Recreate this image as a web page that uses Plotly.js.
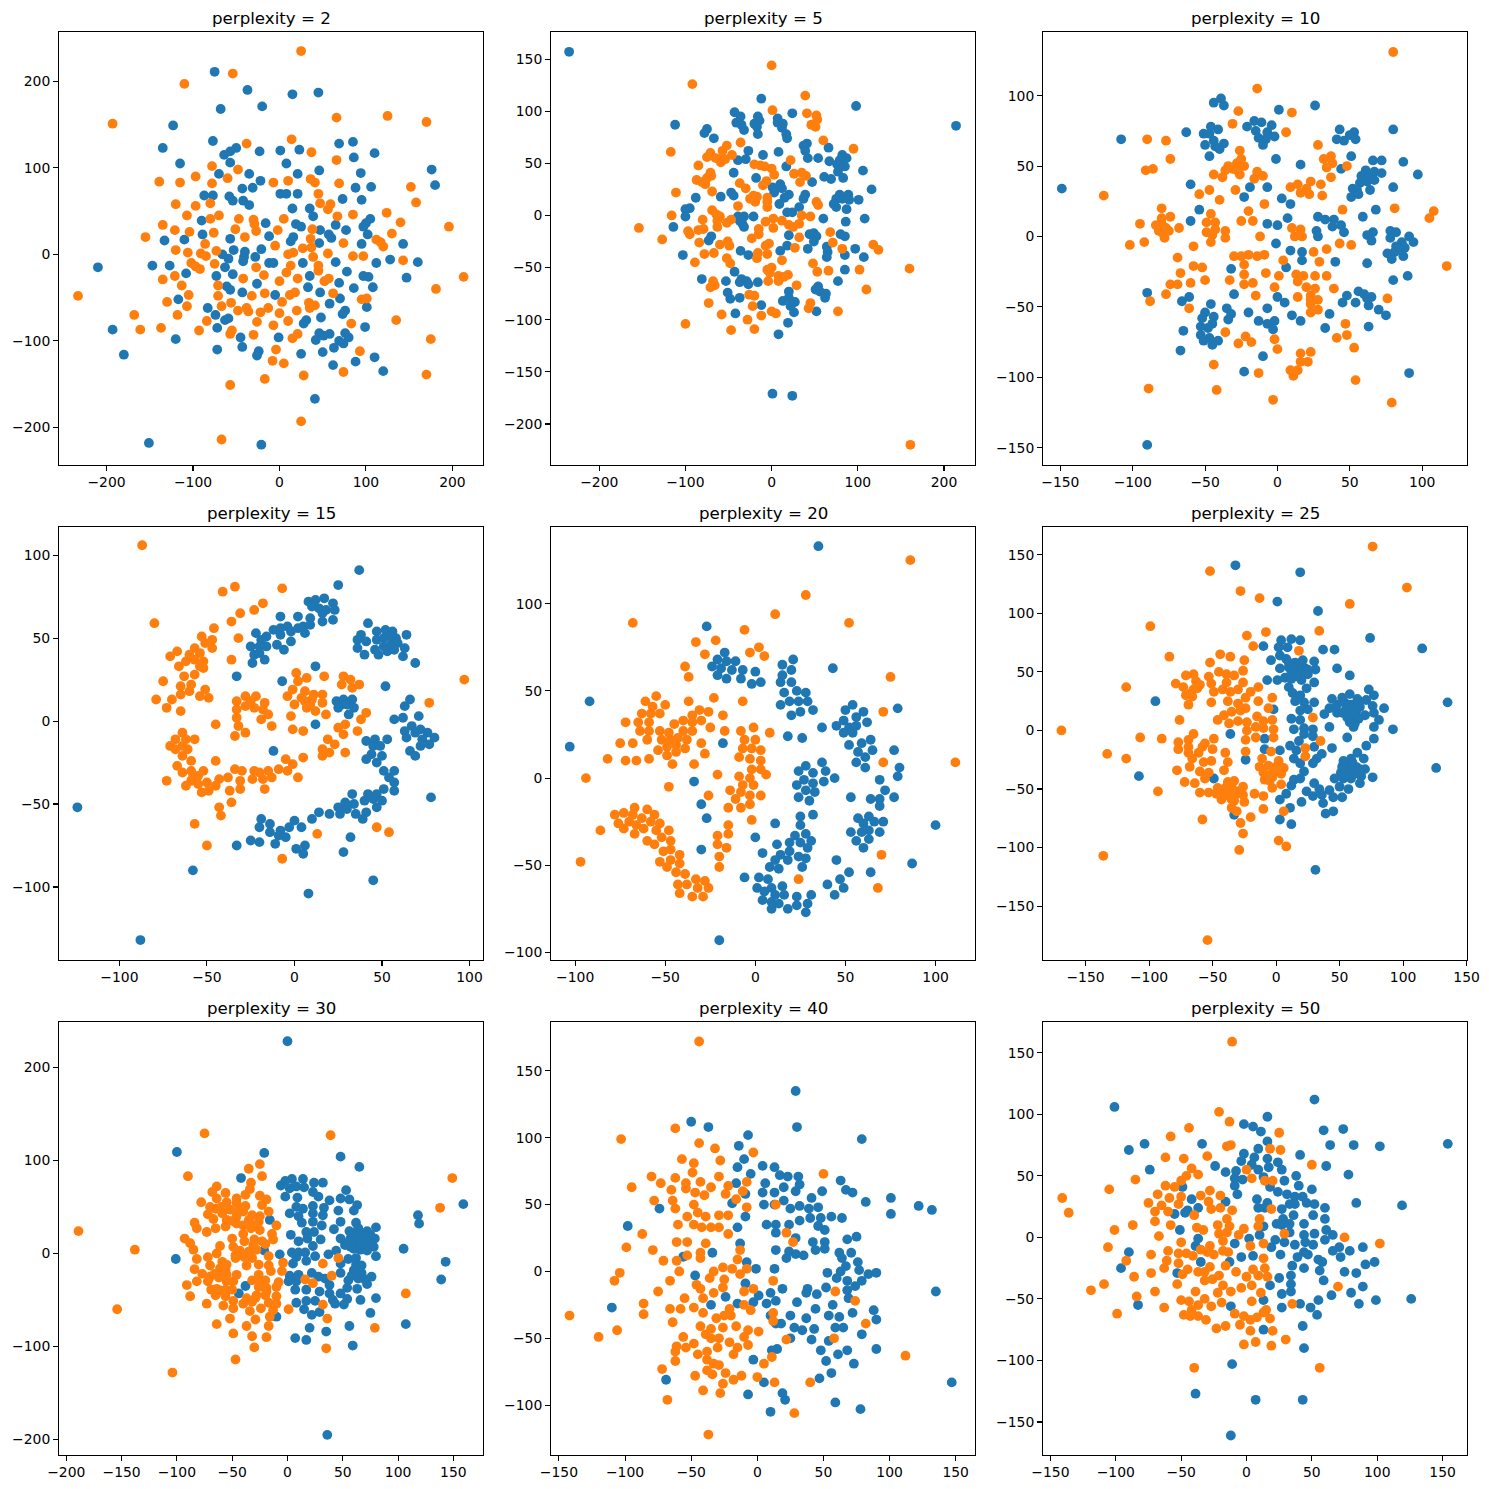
<!DOCTYPE html>
<html><head><meta charset="utf-8">
<script src="https://cdn.plot.ly/plotly-3.0.1.min.js"></script>
<style>html,body{margin:0;padding:0;background:#fff}</style></head>
<body><div id="chart" style="width:1489px;height:1489px"></div>
<script>
const perplexities=[2,5,10,15,20,25,30,40,50];
const blue1=[[-75,211],[-37,190],[15,185],[45,187],[-68,168],[-20,171],[-123,149],[-135,123],[-77,131],[-115,105],[-64,115],[-57,119],[-50,123],[-57,106],[-23,119],[1,120],[23,121],[8,105],[69,128],[85,130],[110,117],[86,112],[46,97],[94,94],[21,93],[-70,93],[-35,93],[-22,85],[176,98],[180,80],[106,78],[88,77],[95,63],[73,64],[-43,76],[-31,77],[-87,68],[-77,68],[-58,67],[-54,62],[-42,62],[-35,57],[1,70],[8,70],[21,70],[15,53],[35,53],[39,44],[-90,39],[-16,36],[19,35],[25,32],[47,28],[65,34],[77,28],[105,41],[100,36],[97,32],[102,23],[-89,23],[-133,16],[-110,17],[-57,18],[-12,21],[16,20],[13,15],[57,23],[60,19],[46,13],[95,12],[143,12],[-21,6],[-53,5],[-40,3],[-41,-3],[-42,-8],[-66,0],[-59,-5],[-28,-3],[-12,-10],[-7,-10],[-63,-15],[27,-10],[65,-9],[112,-10],[128,-6],[160,-9],[-210,-15],[-147,-13],[-127,-13],[-108,-22],[-73,-25],[-54,-23],[35,-25],[78,-20],[97,-25],[103,-26],[147,-27],[-26,-34],[-61,-37],[-57,-41],[-43,-44],[-5,-47],[33,-38],[47,-44],[69,-33],[86,-39],[108,-38],[-117,-52],[70,-51],[58,-57],[101,-61],[-83,-62],[-74,-70],[-63,-76],[-59,-74],[76,-65],[73,-69],[48,-73],[31,-76],[28,-80],[-72,-85],[99,-84],[-193,-87],[-120,-98],[-45,-96],[-1,-96],[46,-91],[42,-99],[51,-94],[58,-92],[76,-91],[80,-96],[69,-100],[74,-103],[63,-108],[-72,-110],[-43,-107],[-24,-112],[-26,-117],[25,-115],[50,-113],[-180,-116],[62,-128],[88,-124],[110,-119],[120,-135],[41,-167],[-151,-218],[-21,-220]];
const orange1=[[25,235],[-54,209],[-110,197],[-193,151],[66,158],[125,160],[170,153],[-38,128],[14,133],[37,118],[66,109],[-78,102],[-48,98],[-97,90],[-60,88],[-139,84],[-115,83],[-78,82],[-7,83],[10,85],[36,87],[41,83],[69,82],[152,78],[45,70],[47,59],[59,58],[56,52],[158,60],[-120,58],[-97,56],[-80,59],[-107,45],[-70,45],[-80,41],[-47,41],[-30,40],[-29,35],[5,41],[67,44],[85,46],[124,48],[140,37],[-135,34],[196,32],[-121,28],[-104,26],[-76,25],[-51,29],[-27,27],[-2,28],[38,29],[130,24],[-155,20],[-40,20],[36,18],[112,17],[117,14],[120,9],[74,13],[-86,12],[-5,10],[27,7],[37,8],[-120,5],[-106,2],[-73,4],[-91,1],[-85,-2],[10,0],[16,2],[56,1],[39,-3],[85,-2],[97,-2],[143,-7],[-102,-10],[-97,-14],[-92,-17],[-75,-11],[13,-13],[45,-13],[45,-19],[-27,-15],[8,-21],[-18,-24],[-135,-29],[-121,-25],[-42,-28],[21,-28],[57,-28],[52,-31],[0,-31],[213,-26],[-113,-36],[-71,-36],[181,-40],[-233,-48],[-105,-47],[-71,-48],[-32,-48],[-17,-45],[18,-44],[12,-47],[62,-45],[95,-52],[101,-51],[-130,-55],[-107,-60],[-67,-60],[-56,-56],[3,-55],[34,-56],[41,-59],[35,-62],[-38,-62],[-13,-62],[-48,-65],[-36,-66],[-22,-67],[0,-68],[20,-65],[-168,-70],[-118,-70],[-84,-77],[-26,-78],[10,-77],[135,-76],[-7,-82],[83,-80],[-161,-87],[-137,-85],[-93,-88],[-55,-88],[-57,-92],[-30,-93],[21,-92],[15,-97],[175,-98],[-4,-110],[93,-112],[-8,-123],[5,-126],[28,-140],[74,-136],[170,-139],[-17,-144],[-57,-151],[25,-193],[-67,-214]];
const blue2=[[-235,157],[-12,112],[98,105],[-43,99],[-36,95],[-41,89],[-35,87],[-32,82],[-16,95],[-14,91],[-20,88],[-17,85],[-16,78],[7,93],[7,89],[13,88],[12,84],[17,78],[18,74],[24,98],[-112,87],[-75,83],[-78,79],[-67,74],[214,86],[41,69],[37,67],[39,62],[66,65],[42,55],[54,55],[67,52],[82,58],[87,55],[79,53],[76,49],[85,47],[77,42],[-27,62],[-10,58],[8,61],[-39,53],[-30,54],[17,47],[106,43],[-44,41],[-18,36],[61,37],[69,35],[83,36],[47,32],[10,30],[1,27],[12,26],[3,22],[116,25],[-47,22],[-44,19],[-59,18],[-88,17],[20,20],[15,17],[39,20],[37,16],[9,11],[79,20],[89,20],[75,16],[82,16],[90,15],[101,15],[72,11],[75,8],[87,6],[32,8],[18,3],[24,3],[-95,7],[-100,6],[-100,-1],[-39,-1],[-32,-1],[-37,-5],[-34,-8],[-32,-11],[-21,-1],[60,-3],[86,-6],[108,-3],[-114,-11],[20,-19],[44,-18],[49,-17],[52,-20],[49,-25],[80,-18],[85,-20],[-70,-20],[-73,-24],[18,-29],[10,-34],[42,-32],[64,-30],[65,-35],[64,-40],[97,-32],[85,-38],[107,-40],[-103,-38],[-36,-34],[-27,-38],[85,-52],[-43,-54],[-81,-61],[-53,-63],[-35,-61],[-37,-64],[-29,-63],[-27,-66],[-16,-64],[77,-63],[54,-68],[51,-71],[56,-73],[63,-75],[62,-79],[-51,-74],[-48,-80],[-37,-79],[20,-73],[13,-82],[20,-79],[27,-83],[22,-87],[26,-93],[-12,-86],[52,-92],[-42,-94],[19,-103],[8,-114],[1,-171],[24,-173]];
const orange2=[[0,144],[-92,126],[39,115],[1,101],[41,98],[52,96],[53,92],[46,87],[51,85],[60,72],[95,64],[-36,70],[-52,67],[-57,62],[-117,61],[-46,58],[-71,60],[-75,56],[-65,55],[-58,55],[-54,54],[-59,51],[-85,48],[22,53],[-20,49],[-13,48],[-8,47],[0,45],[3,39],[26,40],[35,41],[40,38],[33,32],[-71,41],[-70,38],[-75,36],[-87,34],[-81,32],[-77,30],[-6,33],[-10,29],[-37,31],[-30,26],[-111,22],[-69,23],[-21,19],[-17,18],[-25,16],[-19,13],[-5,17],[-5,13],[-5,8],[52,13],[54,10],[-39,9],[-69,5],[-64,1],[-60,-1],[-116,0],[-80,-4],[-63,-5],[-47,-4],[-52,-7],[-63,-11],[2,-3],[-7,-6],[12,-5],[35,0],[45,-1],[20,-9],[25,-11],[32,-8],[-154,-12],[-85,-14],[-79,-13],[-97,-15],[-95,-18],[-15,-13],[2,-12],[-15,-18],[-23,-22],[32,-21],[68,-16],[-127,-23],[-84,-26],[-51,-25],[-60,-28],[-49,-29],[-3,-27],[-7,-29],[27,-31],[71,-26],[82,-32],[118,-28],[124,-33],[-78,-37],[-67,-36],[-5,-37],[-16,-36],[-17,-41],[-52,-41],[-48,-46],[-89,-45],[12,-43],[48,-46],[160,-51],[102,-52],[66,-53],[53,-54],[0,-50],[-5,-52],[-2,-55],[8,-58],[19,-57],[14,-59],[8,-63],[-4,-63],[-68,-63],[-66,-67],[-71,-69],[29,-67],[110,-71],[-26,-76],[-20,-77],[-73,-84],[-22,-87],[45,-84],[43,-89],[77,-92],[0,-92],[5,-94],[-58,-95],[-12,-96],[-28,-100],[-100,-104],[-47,-110],[-20,-109],[161,-220]];
const blue3=[[-149,34],[-108,69],[-63,74],[-90,-148],[-44,95],[-39,98],[-37,93],[1,90],[26,93],[-51,73],[-46,78],[-41,76],[-47,73],[-44,68],[-50,65],[-37,66],[-43,64],[-40,62],[-47,57],[-21,78],[-16,82],[-11,81],[-4,79],[-15,75],[-7,74],[-13,70],[-8,69],[-2,71],[-10,65],[-1,55],[43,76],[53,74],[50,72],[41,69],[46,68],[54,69],[80,76],[51,57],[16,51],[44,48],[66,54],[72,54],[87,53],[97,44],[61,47],[67,46],[72,45],[58,43],[63,42],[67,40],[57,38],[62,39],[64,33],[52,34],[55,33],[51,28],[56,30],[80,35],[-60,37],[-19,35],[-7,35],[-23,28],[3,27],[9,23],[-54,19],[-60,11],[7,13],[-7,9],[0,8],[28,14],[33,12],[39,12],[38,7],[44,8],[27,4],[28,0],[46,3],[59,14],[68,19],[62,1],[66,3],[65,-3],[78,4],[82,3],[78,-1],[91,0],[94,-4],[86,-4],[82,-7],[88,-8],[81,-11],[85,-10],[76,-12],[79,-16],[87,-14],[-1,-5],[9,-10],[17,-11],[17,-17],[6,-22],[40,-18],[62,-19],[90,-28],[80,-31],[-32,-23],[-30,-41],[-90,-40],[-66,-46],[-61,-43],[-46,-48],[-35,-51],[-32,-55],[-34,-59],[-20,-54],[-7,-51],[0,-43],[5,-47],[10,-56],[16,-60],[36,-55],[33,-65],[48,-42],[45,-47],[56,-39],[54,-47],[60,-41],[65,-43],[62,-44],[63,-49],[70,-52],[75,-56],[63,-64],[-50,-54],[-44,-57],[-52,-58],[-45,-62],[-53,-64],[-48,-65],[-53,-70],[-51,-74],[-47,-72],[-45,-77],[-41,-74],[-65,-67],[-67,-81],[-13,-60],[-7,-62],[-2,-60],[-3,-66],[-10,-85],[-23,-96],[91,-97]];
const orange3=[[80,131],[-14,105],[-27,89],[10,88],[-31,80],[6,74],[-90,69],[-77,68],[28,65],[-74,55],[-26,61],[-25,55],[37,57],[32,55],[38,52],[34,49],[48,50],[-86,48],[-91,47],[-34,50],[-28,52],[-23,50],[-36,47],[-31,48],[-28,47],[-26,44],[-44,44],[-38,42],[-14,46],[-10,43],[-16,41],[37,42],[23,39],[30,37],[9,35],[14,37],[20,34],[16,31],[22,30],[31,29],[-47,33],[-29,33],[-54,30],[-40,26],[-120,29],[-9,23],[45,19],[81,20],[108,18],[105,13],[-80,20],[-74,14],[-80,13],[-95,9],[-84,8],[-80,9],[-77,6],[-80,3],[-75,4],[-82,4],[-68,6],[-78,-1],[-46,16],[-20,18],[-25,11],[-17,11],[-49,10],[-43,10],[-43,5],[-36,4],[-49,3],[-45,1],[-36,-1],[-46,-4],[10,6],[16,5],[12,0],[17,0],[-12,0],[-102,-6],[-92,-4],[-58,-7],[43,-5],[51,-6],[34,-9],[25,-11],[-69,-15],[-30,-14],[-25,-14],[-20,-13],[-14,-14],[-9,-13],[-23,-20],[4,-17],[29,-18],[-58,-21],[-52,-22],[117,-21],[-67,-26],[-23,-27],[-8,-26],[1,-28],[13,-27],[18,-28],[26,-28],[34,-28],[14,-32],[-60,-33],[-50,-31],[-33,-31],[-74,-34],[-69,-34],[-23,-34],[-17,-33],[-2,-36],[20,-36],[26,-37],[39,-37],[-77,-41],[-15,-42],[14,-43],[23,-42],[23,-45],[28,-45],[23,-48],[28,-52],[23,-54],[-88,-46],[-61,-51],[76,-44],[47,-62],[48,-70],[-36,-68],[41,-72],[-22,-71],[-18,-75],[-27,-76],[-2,-73],[0,-80],[53,-79],[16,-83],[23,-82],[16,-89],[21,-89],[-44,-91],[9,-95],[14,-95],[-13,-97],[11,-99],[54,-102],[-89,-108],[-42,-109],[-3,-116],[79,-118]];
const blue4=[[37,91],[25,82],[8,72],[12,73],[17,74],[22,71],[10,69],[14,68],[18,67],[23,67],[16,65],[22,61],[16,60],[-8,63],[2,63],[9,62],[-4,57],[5,57],[9,58],[2,56],[-12,55],[-8,56],[-22,53],[-16,51],[-8,52],[-2,54],[6,53],[-2,48],[-10,46],[-6,43],[-16,45],[-19,49],[-25,45],[-20,45],[-23,40],[-20,41],[-24,35],[-17,37],[42,59],[38,52],[36,49],[41,48],[36,44],[40,40],[47,54],[52,55],[56,54],[64,52],[47,49],[51,50],[55,51],[58,50],[51,45],[55,46],[59,47],[46,43],[53,42],[57,43],[63,44],[48,40],[62,39],[69,35],[12,33],[-33,27],[-7,24],[52,21],[66,13],[24,12],[28,13],[33,13],[27,10],[30,10],[25,8],[34,8],[31,4],[63,9],[71,3],[57,1],[62,2],[12,-2],[67,-3],[63,-6],[72,-5],[69,-7],[76,-7],[80,-10],[64,-10],[73,-11],[77,-14],[72,-15],[66,-18],[69,-21],[41,-12],[46,-11],[53,-11],[45,-15],[49,-15],[50,-21],[44,-20],[41,-23],[47,-25],[-12,-18],[51,-30],[57,-30],[54,-34],[57,-37],[51,-41],[57,-42],[33,-44],[42,-44],[47,-44],[40,-48],[45,-47],[50,-48],[47,-52],[78,-46],[25,-52],[29,-49],[34,-50],[26,-56],[30,-53],[35,-56],[41,-55],[39,-59],[14,-55],[20,-56],[10,-59],[-124,-52],[-19,-59],[-14,-62],[-20,-64],[-14,-67],[0,-60],[-3,-64],[4,-64],[-8,-66],[-9,-69],[-5,-70],[-11,-74],[-25,-72],[-20,-73],[-33,-75],[1,-77],[6,-75],[5,-80],[32,-70],[28,-79],[-58,-90],[45,-96],[8,-104],[-88,-132]];
const orange4=[[-87,106],[-34,81],[-41,78],[-7,80],[-18,71],[-23,67],[-31,65],[-36,60],[-80,59],[-46,56],[-53,51],[-47,49],[-32,50],[-51,47],[-47,44],[-57,44],[-67,42],[-71,39],[-60,40],[-54,41],[-62,36],[-57,37],[-52,36],[-66,33],[-54,33],[-52,32],[-36,37],[-57,28],[-63,27],[-75,24],[-59,22],[-65,21],[-60,18],[-65,16],[-51,19],[-54,15],[-49,14],[-79,13],[-70,13],[-73,8],[-65,6],[1,29],[7,26],[2,24],[17,27],[28,27],[32,25],[27,22],[37,22],[33,20],[97,25],[-1,19],[-4,15],[6,18],[4,14],[11,16],[16,16],[0,10],[6,12],[10,13],[16,11],[7,8],[12,6],[9,10],[-33,12],[-28,15],[-22,15],[-25,12],[-28,9],[-17,11],[-23,8],[-18,7],[-33,7],[-33,2],[-15,4],[-19,1],[-32,-3],[-13,-3],[-45,-2],[-34,-9],[-28,-7],[-2,3],[18,4],[41,5],[38,1],[77,11],[29,-2],[25,-4],[28,-8],[-1,-5],[5,-6],[36,-6],[-64,-7],[-68,-11],[-62,-11],[-57,-11],[-71,-15],[-68,-17],[-64,-15],[-61,-17],[-64,-21],[19,-11],[23,-14],[16,-17],[20,-19],[16,-21],[29,-19],[-59,-24],[-45,-24],[-5,-23],[5,-22],[-1,-26],[-67,-27],[-59,-30],[-64,-31],[-52,-30],[-34,-29],[-30,-30],[-23,-30],[-20,-31],[-15,-30],[-9,-29],[-4,-30],[-73,-36],[-58,-34],[-55,-33],[-59,-36],[-62,-39],[-55,-38],[-50,-37],[-43,-35],[-38,-34],[-31,-36],[-24,-35],[-18,-35],[-13,-34],[2,-34],[-45,-39],[-49,-42],[-53,-43],[-37,-42],[-31,-41],[-17,-41],[-36,-49],[-43,-52],[-42,-57],[-57,-62],[-50,-75],[47,-64],[54,-67],[13,-68],[-7,-83]];
const blue5=[[35,133],[-27,87],[43,63],[-92,44],[-103,18],[-17,72],[-21,68],[-11,67],[-16,67],[-24,64],[-19,63],[-7,62],[-13,62],[-21,59],[-16,57],[-8,57],[0,61],[3,55],[-2,54],[21,68],[15,65],[20,62],[15,59],[20,55],[14,55],[23,50],[28,49],[16,49],[19,44],[24,44],[29,44],[14,42],[25,38],[32,39],[20,36],[37,29],[18,24],[26,23],[-18,20],[54,42],[50,39],[60,38],[56,35],[49,33],[62,32],[45,30],[52,29],[56,30],[49,26],[54,26],[64,22],[59,20],[52,19],[65,16],[57,15],[61,12],[56,9],[61,6],[79,40],[77,16],[37,9],[28,7],[24,4],[39,4],[32,3],[27,-1],[44,0],[38,-2],[32,-3],[23,-4],[28,-7],[33,-8],[24,-11],[30,-13],[-34,-2],[-30,-15],[69,-1],[80,6],[79,1],[72,-7],[77,-11],[53,-11],[64,-12],[69,-12],[69,-16],[25,-22],[32,-21],[-27,-23],[11,-26],[25,-27],[57,-23],[63,-22],[60,-26],[66,-25],[71,-25],[53,-31],[59,-31],[63,-30],[69,-31],[56,-36],[63,-35],[60,-40],[100,-27],[0,-34],[22,-33],[28,-32],[19,-37],[25,-37],[31,-36],[12,-38],[29,-40],[-30,-41],[4,-43],[19,-42],[14,-44],[24,-45],[11,-47],[18,-47],[28,-46],[8,-51],[13,-52],[26,-51],[45,-47],[87,-49],[52,-54],[64,-54],[47,-58],[-6,-57],[2,-57],[7,-58],[40,-61],[49,-63],[44,-67],[1,-63],[9,-63],[15,-62],[5,-65],[11,-67],[16,-67],[4,-70],[9,-71],[13,-72],[23,-68],[31,-67],[23,-73],[29,-72],[9,-75],[18,-75],[28,-77],[-20,-93]];
const orange5=[[86,125],[28,105],[11,94],[-68,89],[52,89],[-6,85],[-22,79],[-33,78],[2,75],[-3,72],[-28,71],[5,70],[-39,64],[-37,58],[75,58],[-55,47],[-61,44],[-23,46],[-7,44],[-37,44],[-57,41],[-50,42],[-63,37],[-58,37],[-53,37],[-31,39],[-26,38],[-35,36],[-18,36],[71,38],[-72,32],[-65,32],[-59,32],[-40,33],[-30,33],[-45,31],[-35,32],[-25,29],[-64,27],[-59,27],[-53,27],[-48,26],[-40,27],[-35,27],[-8,27],[-1,29],[-17,27],[8,26],[-60,22],[-52,22],[-47,22],[-43,23],[-38,22],[-6,22],[0,22],[-75,20],[-68,20],[-30,20],[-49,18],[-44,19],[-39,17],[-54,16],[-44,15],[-28,14],[-7,17],[-2,17],[3,16],[-49,13],[-82,11],[-72,10],[-66,10],[-59,11],[-46,8],[-34,8],[-9,12],[-3,11],[3,10],[71,9],[111,9],[-2,5],[3,5],[6,2],[-21,2],[-9,1],[-3,0],[-94,0],[-7,-4],[-1,-4],[-48,-5],[-14,-7],[-8,-8],[-3,-10],[3,-10],[-26,-10],[-11,-12],[-15,-17],[-8,-17],[-3,-15],[-67,-17],[-60,-18],[-73,-20],[-56,-21],[-78,-21],[-68,-21],[-63,-23],[-76,-26],[-70,-25],[-58,-25],[-53,-26],[-66,-27],[-2,-24],[-73,-29],[-62,-29],[-15,-27],[-86,-30],[-55,-30],[-48,-30],[-67,-32],[-21,-33],[-15,-32],[-52,-34],[-60,-36],[-47,-36],[-56,-38],[-21,-38],[-16,-40],[-51,-42],[-47,-41],[-42,-44],[-20,-45],[70,-44],[-53,-48],[-47,-47],[-42,-49],[-97,-48],[-49,-51],[-20,-51],[-44,-54],[-39,-55],[-33,-58],[-28,-59],[24,-58],[-43,-61],[-38,-61],[-32,-63],[-26,-63],[68,-63],[-42,-66],[-35,-68],[-29,-68]];
const blue6=[[-32,141],[19,135],[1,110],[33,102],[-10,72],[74,79],[115,70],[37,69],[46,69],[4,77],[12,78],[19,77],[2,71],[9,71],[3,64],[-4,60],[8,61],[15,58],[21,60],[30,59],[3,53],[10,54],[16,54],[23,53],[31,52],[12,50],[18,49],[25,48],[48,53],[58,47],[-7,43],[1,43],[7,45],[12,44],[20,43],[30,41],[10,37],[24,36],[73,35],[77,30],[13,32],[19,30],[15,25],[22,24],[30,24],[-95,25],[135,24],[44,27],[52,28],[58,31],[64,27],[71,26],[42,19],[48,22],[54,24],[59,22],[66,20],[76,21],[19,17],[25,18],[-2,18],[38,14],[48,15],[59,17],[63,16],[70,13],[77,15],[85,19],[12,10],[19,9],[58,12],[65,10],[81,9],[58,7],[62,6],[61,3],[42,3],[77,3],[14,1],[22,2],[29,1],[92,1],[-36,-3],[22,-3],[29,-5],[56,-6],[77,-7],[-9,-7],[18,-9],[11,-13],[30,-14],[44,-15],[71,-13],[-9,-16],[3,-17],[16,-17],[36,-20],[64,-19],[32,-24],[53,-26],[59,-24],[69,-24],[14,-24],[-24,-25],[19,-28],[29,-28],[57,-30],[63,-31],[70,-33],[126,-32],[22,-35],[51,-36],[59,-36],[46,-41],[53,-41],[59,-41],[67,-39],[76,-40],[-108,-39],[-49,-41],[14,-42],[19,-41],[12,-47],[30,-45],[50,-48],[57,-50],[66,-45],[34,-50],[42,-51],[24,-52],[8,-54],[3,-59],[29,-56],[36,-55],[45,-57],[52,-57],[20,-61],[37,-62],[11,-66],[39,-71],[45,-69],[-33,-72],[3,-76],[12,-80],[31,-119],[10,58],[14,50],[20,56],[25,52],[17,46],[55,18],[60,15],[52,15],[56,11],[65,22],[57,-33],[62,-37],[55,-38],[66,-33],[52,-31],[60,-27]];
const orange6=[[76,157],[-52,136],[103,122],[-28,119],[-13,113],[58,108],[-99,89],[34,85],[-8,84],[-23,81],[-18,72],[18,68],[-84,63],[-44,65],[-36,63],[-25,60],[-52,58],[-45,50],[-26,51],[-71,47],[-65,48],[-53,46],[-39,48],[-33,47],[-79,40],[-73,37],[-63,42],[-60,39],[-51,40],[-39,41],[-26,41],[-118,37],[-65,35],[-49,33],[-42,35],[-36,33],[-30,35],[-14,37],[-20,33],[-71,30],[-66,29],[-3,28],[-51,24],[-38,25],[-24,28],[-14,25],[-69,22],[-30,23],[-41,13],[-24,19],[-35,16],[-28,17],[-6,19],[-15,12],[-46,9],[-76,9],[-37,6],[-30,8],[-23,7],[-10,8],[-3,9],[29,11],[-16,3],[-23,0],[-10,2],[-2,1],[-169,0],[-65,-3],[-49,-7],[-107,-6],[-90,-7],[-16,-6],[-2,-6],[-24,-8],[35,-9],[-69,-8],[-77,-10],[-56,-11],[-77,-16],[-69,-14],[-58,-14],[-50,-16],[23,-15],[-69,-19],[-61,-19],[-24,-18],[-40,-19],[-4,-18],[-133,-20],[-118,-24],[23,-22],[-66,-24],[-57,-27],[-51,-26],[-38,-27],[-11,-24],[2,-26],[-68,-31],[-13,-31],[-6,-30],[6,-32],[-78,-34],[-60,-35],[-53,-36],[-41,-34],[-10,-36],[-2,-35],[4,-37],[-6,-39],[-56,-41],[-72,-44],[-64,-45],[-38,-44],[-33,-43],[-5,-43],[4,-46],[-3,-49],[-46,-49],[-26,-48],[-93,-52],[-60,-53],[-53,-53],[-40,-49],[-34,-51],[-47,-54],[-40,-55],[-32,-55],[-26,-55],[-17,-54],[-10,-56],[-43,-59],[-35,-59],[-25,-61],[-35,-66],[-10,-67],[-31,-69],[6,-69],[-20,-74],[-58,-76],[-28,-79],[-26,-88],[2,-94],[8,-99],[-29,-102],[-136,-107],[-54,-179],[-38,-50],[-35,-48],[-30,-52],[-36,-57],[-42,-54],[-33,-60],[-8,-38],[-3,-40],[-9,-42],[0,-31],[-62,36],[-67,32]];
const blue7=[[0,228],[-100,109],[-21,108],[48,104],[65,93],[-42,81],[159,53],[118,41],[119,32],[-6,73],[4,80],[14,80],[24,76],[32,76],[-2,78],[2,70],[8,72],[15,71],[23,66],[53,68],[-2,61],[9,60],[28,61],[38,57],[48,59],[56,58],[63,52],[60,46],[8,50],[14,48],[23,51],[33,49],[46,46],[2,43],[10,40],[23,43],[32,41],[-16,36],[13,33],[23,34],[31,30],[48,34],[62,33],[42,26],[17,23],[24,23],[56,24],[64,27],[72,24],[80,28],[3,20],[10,13],[18,16],[23,8],[30,15],[48,16],[57,16],[64,20],[72,18],[79,16],[63,13],[69,11],[78,7],[57,7],[66,4],[4,1],[10,1],[16,1],[8,-4],[5,-11],[17,-8],[25,-3],[-7,-1],[37,-1],[44,3],[55,-6],[62,-5],[80,-3],[105,5],[48,-11],[67,-13],[143,-9],[-21,3],[-101,-6],[10,-23],[22,-21],[2,-24],[1,-30],[28,-25],[34,-27],[48,-21],[60,-18],[67,-21],[76,-25],[55,-29],[64,-27],[54,-37],[63,-38],[72,-33],[8,-30],[7,-39],[17,-39],[29,-41],[38,-34],[38,-43],[48,-43],[-38,-35],[-44,-43],[139,-28],[8,-53],[17,-51],[25,-51],[41,-50],[43,-54],[51,-55],[54,-49],[66,-50],[80,-48],[15,-60],[22,-66],[29,-63],[75,-64],[-10,-68],[107,-76],[56,-78],[20,-80],[35,-84],[7,-91],[17,-93],[59,-99],[36,-195],[58,20],[62,10],[66,15],[70,8],[74,13],[60,5],[66,9],[72,3],[55,12],[68,20],[63,24],[58,13],[70,17],[75,20],[52,9],[62,-12],[58,-24],[70,-28]];
const orange7=[[-75,129],[39,127],[-25,96],[-35,91],[-90,83],[-23,83],[149,81],[-33,76],[-64,72],[-34,69],[-68,66],[-56,65],[-25,62],[-64,59],[-46,59],[-38,63],[-19,58],[-78,55],[-55,55],[-46,54],[-38,51],[-23,52],[-70,50],[-65,48],[-52,47],[-44,47],[-17,45],[-72,42],[-59,43],[-46,40],[-32,41],[-25,40],[138,49],[-84,33],[-67,37],[-55,36],[-35,36],[-26,34],[-10,30],[-82,27],[-65,27],[-56,29],[-46,32],[-33,27],[-25,25],[-189,24],[-73,23],[-40,21],[-14,21],[-93,16],[-50,16],[-13,15],[-39,13],[-31,9],[-23,13],[-88,11],[-138,4],[-61,8],[-49,7],[-85,4],[-43,3],[-64,0],[-47,-2],[-28,4],[-17,-3],[-72,-4],[-39,-4],[-32,-5],[-82,-6],[-47,-5],[-37,-13],[-26,-12],[-4,-10],[-70,-13],[-59,-9],[-17,-13],[-84,-17],[-61,-16],[-56,-17],[-5,-19],[-15,-19],[-77,-22],[32,-11],[46,-5],[40,-24],[-70,-25],[-55,-23],[-62,-26],[-46,-23],[-26,-23],[-32,-29],[-20,-29],[16,-28],[23,-32],[-82,-30],[-72,-30],[-49,-30],[-91,-34],[-8,-31],[-10,-36],[-26,-36],[-19,-37],[-69,-39],[-64,-38],[-56,-39],[-50,-39],[-19,-41],[-88,-46],[-65,-45],[-56,-46],[107,-43],[-10,-46],[-37,-48],[-29,-48],[-49,-51],[-40,-54],[-32,-52],[-17,-53],[-10,-54],[-73,-54],[-58,-56],[-49,-59],[-24,-59],[-34,-62],[-13,-61],[1,-60],[32,-55],[-154,-60],[-16,-68],[-52,-70],[-29,-71],[36,-70],[-64,-76],[-37,-78],[-17,-78],[79,-80],[-49,-86],[-32,-89],[-19,-90],[-30,-101],[35,-102],[-47,-114],[-104,-128],[-60,50],[-40,45],[-50,35],[-40,30],[-30,30],[-60,-20],[-55,-30],[-60,-40],[-25,-30],[-28,-45],[-20,-45],[-30,15],[-35,2],[-20,10],[-66,-22],[-55,-12]];
const blue8=[[29,135],[30,108],[-50,112],[-37,108],[-7,102],[79,99],[-14,94],[-10,84],[-15,78],[4,79],[13,78],[-5,73],[17,72],[23,71],[31,71],[63,68],[-16,66],[6,66],[32,65],[20,63],[29,60],[67,61],[72,59],[4,59],[13,59],[-9,58],[49,60],[41,55],[82,52],[20,53],[-19,51],[5,50],[13,50],[32,49],[25,47],[39,47],[46,48],[101,55],[122,49],[132,46],[101,43],[-74,47],[-9,41],[40,40],[48,40],[56,41],[64,40],[32,38],[-15,33],[7,35],[14,35],[24,35],[46,34],[51,31],[-98,34],[14,29],[29,25],[68,24],[75,26],[42,22],[51,22],[-13,21],[44,16],[51,17],[14,16],[24,15],[29,13],[35,12],[62,14],[71,14],[22,10],[64,10],[-56,11],[-34,14],[-8,7],[-1,2],[13,2],[76,7],[67,4],[77,1],[63,0],[53,-1],[84,-2],[90,-1],[60,-5],[68,-7],[79,-7],[-47,-3],[-9,-9],[74,-11],[68,-14],[38,-13],[37,-16],[52,-12],[45,-17],[19,-13],[10,-16],[1,-18],[-24,-19],[135,-15],[69,-20],[14,-22],[30,-23],[7,-24],[-3,-23],[-15,-24],[-35,-25],[57,-25],[-110,-27],[44,-28],[72,-31],[88,-29],[54,-33],[25,-33],[10,-33],[90,-36],[62,-34],[37,-35],[14,-39],[18,-39],[28,-42],[34,-44],[43,-43],[59,-42],[65,-42],[79,-47],[25,-50],[54,-52],[41,-51],[15,-58],[11,-59],[48,-59],[90,-58],[68,-59],[61,-62],[-3,-66],[52,-67],[73,-69],[56,-76],[47,-80],[5,-83],[-69,-81],[147,-83],[-7,-92],[19,-91],[21,-96],[10,-105],[59,-98],[78,-103]];
const orange8=[[-44,172],[-62,107],[-103,99],[-44,96],[-32,92],[-3,89],[-57,84],[-28,83],[-48,81],[-49,74],[50,73],[-80,71],[-62,70],[-29,71],[-73,66],[-54,66],[-43,67],[-8,67],[-95,63],[-54,62],[-65,61],[-35,63],[-22,64],[-47,59],[-40,57],[-24,58],[-11,60],[-16,54],[-78,53],[-64,53],[-48,50],[-8,48],[14,50],[-62,47],[-45,44],[-39,41],[-29,42],[-22,42],[-53,41],[-60,35],[-48,35],[-42,33],[-35,33],[-29,33],[-22,28],[-87,28],[22,29],[27,22],[-61,22],[-53,22],[-39,21],[-99,18],[-79,16],[-13,16],[-53,12],[-43,14],[-43,10],[-15,9],[-71,8],[-61,8],[-26,3],[-19,2],[-8,2],[-104,-1],[-59,0],[-33,0],[-13,-2],[-108,-7],[-66,-7],[-36,-5],[-25,-6],[12,-7],[-46,-10],[-26,-12],[-43,-13],[-3,-13],[-75,-15],[-33,-16],[-10,-15],[59,-15],[-41,-20],[-55,-20],[74,-22],[-86,-24],[-10,-25],[-48,-27],[-58,-28],[-66,-28],[-5,-29],[-21,-28],[-86,-32],[-41,-31],[-25,-33],[-20,-33],[-142,-33],[-31,-35],[12,-31],[12,-37],[-64,-38],[82,-39],[-43,-41],[-16,-41],[-26,-42],[-106,-44],[-35,-43],[-7,-44],[1,-45],[-39,-47],[-35,-50],[-29,-50],[-120,-49],[-56,-49],[-10,-49],[58,-50],[22,-51],[-21,-53],[-48,-54],[-61,-56],[-54,-57],[-7,-55],[-15,-57],[-30,-57],[-38,-60],[-62,-60],[-18,-62],[-45,-62],[-38,-66],[11,-64],[-62,-67],[-33,-69],[-29,-70],[5,-69],[112,-63],[-72,-73],[-38,-74],[-24,-76],[-47,-78],[-34,-77],[0,-79],[-12,-78],[-18,-81],[13,-83],[40,-83],[-26,-84],[-41,-89],[-28,-91],[-68,-96],[28,-106],[-37,-122]];
const blue9=[[52,112],[-101,106],[16,98],[-2,92],[5,90],[11,86],[59,87],[74,88],[16,78],[-78,76],[-34,76],[64,75],[82,75],[102,74],[154,76],[-90,71],[9,72],[-2,68],[41,67],[6,65],[-4,62],[16,64],[-24,58],[4,59],[24,61],[61,58],[-74,55],[-16,53],[-8,54],[9,55],[17,57],[27,55],[13,49],[38,50],[78,51],[-9,48],[-3,47],[29,46],[-9,42],[40,42],[18,41],[-49,41],[50,39],[-7,35],[24,37],[31,35],[37,33],[43,33],[-42,31],[8,31],[-16,29],[16,28],[33,27],[37,27],[46,28],[52,27],[84,28],[119,26],[-37,24],[9,24],[14,24],[27,23],[-45,22],[-47,20],[-55,19],[60,24],[36,18],[51,18],[60,15],[28,15],[23,11],[27,10],[33,11],[44,11],[13,9],[61,6],[-51,6],[33,4],[52,3],[44,2],[66,2],[60,-2],[-37,-1],[2,-1],[10,2],[22,-2],[29,-4],[-9,-5],[45,-4],[-39,-7],[19,-8],[37,-6],[51,-6],[71,-8],[89,-8],[66,-11],[79,-11],[26,-14],[5,-15],[-4,-16],[-90,-12],[44,-12],[47,-14],[39,-16],[72,-16],[55,-18],[58,-20],[-35,-20],[-13,-20],[98,-20],[91,-22],[35,-23],[44,-25],[-96,-25],[56,-27],[75,-28],[84,-29],[-53,-29],[34,-31],[25,-33],[59,-35],[34,-38],[18,-39],[89,-40],[34,-44],[27,-46],[80,-45],[65,-47],[55,-51],[13,-51],[99,-51],[126,-50],[41,-54],[86,-54],[-12,-56],[27,-57],[49,-57],[-83,-55],[54,-63],[43,-72],[13,-75],[44,-90],[-11,-103],[-39,-127],[7,-132],[43,-132],[-12,-161]];
const orange9=[[-11,159],[-21,102],[-13,94],[-44,89],[25,85],[-58,82],[-15,74],[-12,75],[18,72],[26,71],[-30,66],[-62,65],[-48,64],[50,59],[-42,56],[0,55],[-46,50],[-37,51],[4,48],[-85,47],[-50,46],[14,46],[20,46],[-62,42],[-55,41],[-105,39],[-28,38],[-68,35],[-35,34],[-20,34],[-59,32],[-50,33],[-141,32],[-75,28],[-29,29],[-52,27],[-65,26],[-27,23],[-20,24],[-11,22],[19,23],[-70,21],[-60,21],[-136,20],[-40,18],[-15,15],[10,15],[-70,13],[-87,10],[-58,10],[-22,10],[9,9],[-38,8],[-13,9],[-33,6],[-2,7],[-101,6],[-15,4],[-21,3],[-6,2],[29,3],[75,0],[-67,1],[-18,-3],[102,-5],[-50,-4],[13,-5],[3,-7],[-106,-8],[-28,-7],[-60,-11],[-35,-10],[-30,-12],[-18,-11],[-14,-12],[-52,-13],[-46,-13],[-41,-15],[-25,-14],[-73,-14],[13,-17],[-61,-19],[-92,-19],[-52,-21],[-16,-23],[-28,-24],[14,-25],[-63,-25],[-45,-26],[5,-26],[-32,-28],[-37,-28],[-8,-28],[-73,-29],[-49,-30],[-21,-31],[9,-31],[16,-32],[0,-32],[-86,-32],[-26,-34],[-32,-35],[-53,-38],[-109,-38],[4,-39],[-18,-39],[70,-40],[-4,-41],[-119,-43],[-70,-44],[-12,-44],[-39,-44],[-22,-45],[11,-45],[-84,-48],[-32,-50],[-50,-51],[-44,-52],[-19,-53],[4,-52],[-37,-55],[-27,-56],[35,-54],[-63,-57],[-42,-59],[15,-59],[-99,-62],[13,-61],[-48,-63],[-43,-64],[-37,-64],[-9,-62],[-2,-64],[3,-67],[8,-65],[18,-66],[-31,-67],[-5,-71],[-16,-72],[-23,-74],[3,-76],[20,-76],[30,-83],[7,-85],[-2,-87],[19,-88],[-40,-106],[56,-106]];
const blues=[blue1,blue2,blue3,blue4,blue5,blue6,blue7,blue8,blue9];
const oranges=[orange1,orange2,orange3,orange4,orange5,orange6,orange7,orange8,orange9];
const xRanges=[[-255,235.4],[-256,236],[-162,131],[-134.5,107.7],[-113.4,121.9],[-183.5,150.3],[-206.6,176.8],[-156,164.6],[-155.7,168.7]];
const yRanges=[[-243,257],[-239,176],[-162,145.2],[-143.8,117],[-104.1,144],[-195.6,173.7],[-216.2,248.7],[-137,186.6],[-176.5,175]];
const xTicks=[[-200,-100,0,100,200],[-200,-100,0,100,200],[-150,-100,-50,0,50,100],[-100,-50,0,50,100],[-100,-50,0,50,100],[-150,-100,-50,0,50,100,150],[-200,-150,-100,-50,0,50,100,150],[-150,-100,-50,0,50,100,150],[-150,-100,-50,0,50,100,150]];
const yTicks=[[-200,-100,0,100,200],[-200,-150,-100,-50,0,50,100,150],[-150,-100,-50,0,50,100],[-100,-50,0,50,100],[-100,-50,0,50,100],[-150,-100,-50,0,50,100,150],[-200,-100,0,100,200],[-100,-50,0,50,100,150],[-150,-100,-50,0,50,100,150]];
const W=1489,H=1489;
const colLeft=[59,551,1043],colRight=[483,975,1467];
const rowTop=[32,527,1022],rowBottom=[464.6,959.6,1454.6];
const traces=[];
const layout={width:W,height:H,margin:{l:0,r:0,t:0,b:0},paper_bgcolor:'#fff',plot_bgcolor:'#fff',showlegend:false,
  font:{family:'DejaVu Sans',size:13.9,color:'#000'},annotations:[]};
perplexities.forEach((p,i)=>{
  const r=Math.floor(i/3),c=i%3,s=i===0?'':String(i+1);
  [[blues[i],'#1f77b4'],[oranges[i],'#ff7f0e']].forEach(([pts,col])=>{
    traces.push({type:'scatter',mode:'markers',x:pts.map(d=>d[0]),y:pts.map(d=>d[1]),xaxis:'x'+s,yaxis:'y'+s,
      marker:{color:col,size:9.8,line:{width:0}},hoverinfo:'skip'});
  });
  const common={showgrid:false,zeroline:false,showline:true,mirror:true,linecolor:'#000',linewidth:1.1,
    ticks:'outside',ticklen:4.9,tickwidth:1.1,tickcolor:'#000',tickmode:'array',
    tickfont:{family:'DejaVu Sans',size:13.9,color:'#000'}};
  layout['xaxis'+s]=Object.assign({},common,{domain:[colLeft[c]/W,colRight[c]/W],range:xRanges[i],tickvals:xTicks[i],anchor:'y'+s});
  layout['yaxis'+s]=Object.assign({},common,{domain:[1-rowBottom[r]/H,1-rowTop[r]/H],range:yRanges[i],tickvals:yTicks[i],anchor:'x'+s});
  layout.annotations.push({xref:'x'+s+' domain',yref:'y'+s+' domain',x:0.5,y:1,xanchor:'center',yanchor:'bottom',yshift:2,showarrow:false,
    text:'perplexity = '+p,font:{family:'DejaVu Sans',size:16.67,color:'#000'}});
});
Plotly.newPlot('chart',traces,layout,{displayModeBar:false,staticPlot:true});
</script></body></html>
